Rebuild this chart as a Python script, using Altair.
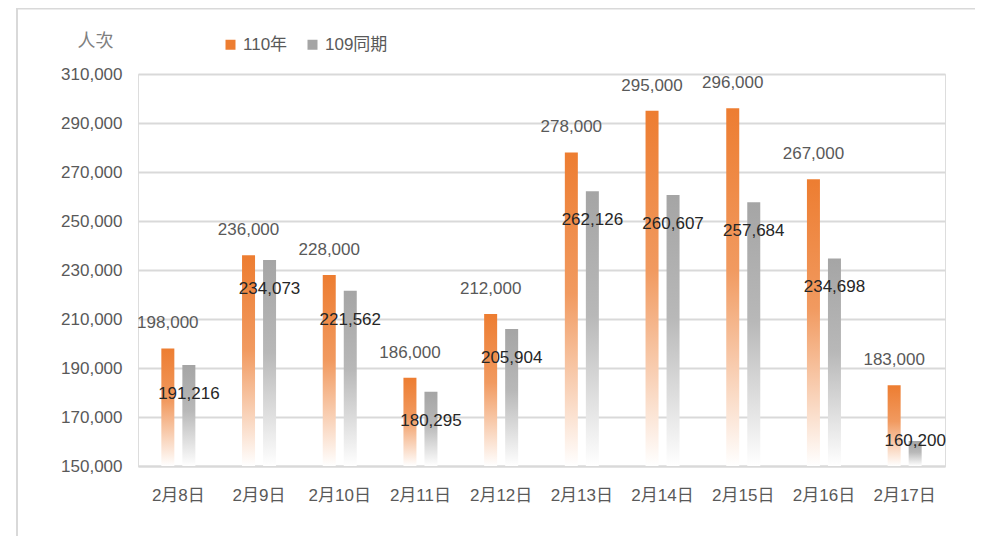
import altair as alt
import pandas as pd

dates = ["2月8日", "2月9日", "2月10日", "2月11日", "2月12日",
         "2月13日", "2月14日", "2月15日", "2月16日", "2月17日"]
series_names = ["110年", "109同期"]
values_110 = [198000, 236000, 228000, 186000, 212000, 278000, 295000, 296000, 267000, 183000]
values_109 = [191216, 234073, 221562, 180295, 205904, 262126, 260607, 257684, 234698, 160200]
y_ticks = [150000, 170000, 190000, 210000, 230000, 250000, 270000, 290000, 310000]

rows = []
for d, a, b in zip(dates, values_110, values_109):
    rows.append({"date": d, "series": series_names[0], "value": a})
    rows.append({"date": d, "series": series_names[1], "value": b})
df = pd.DataFrame(rows)

FONT = "Liberation Sans, Noto Sans CJK TC"
ORANGE = "#ED7D31"
GRAY = "#A5A5A5"

x_enc = alt.X("date:N", sort=dates, title=None,
              scale=alt.Scale(paddingInner=0, paddingOuter=0),
              axis=alt.Axis(labelAngle=0, ticks=False, domain=True, domainColor="#d9d9d9",
                            domainWidth=2, labelPadding=21, labelFontSize=17,
                            labelColor="#595959", labelFont=FONT, grid=False))
xoff = alt.XOffset("series:N", sort=series_names,
                   scale=alt.Scale(paddingInner=0, paddingOuter=0.92))
y_enc = alt.Y("value:Q", title="人次",
              scale=alt.Scale(domain=[150000, 310000], zero=False, nice=False),
              axis=alt.Axis(values=y_ticks, format=",d", ticks=False, domain=False,
                            gridColor="#d9d9d9", gridWidth=2, labelPadding=16,
                            labelFontSize=17, labelColor="#595959", labelFont=FONT,
                            titleAngle=0, titleX=-43, titleY=-33, titleAlign="center",
                            titleBaseline="middle", titleFontSize=18, titleFontWeight="normal",
                            titleColor="#7f7f7f", titleFont=FONT))

base = alt.Chart(df)

grad_orange = alt.Gradient(gradient="linear", x1=0, x2=0, y1=0, y2=1,
                           stops=[alt.GradientStop(color=ORANGE, offset=0),
                                  alt.GradientStop(color="#F19A60", offset=0.45),
                                  alt.GradientStop(color="#FFFFFF", offset=1)])
grad_gray = alt.Gradient(gradient="linear", x1=0, x2=0, y1=0, y2=1,
                         stops=[alt.GradientStop(color=GRAY, offset=0),
                                alt.GradientStop(color="#B8B8B8", offset=0.45),
                                alt.GradientStop(color="#FFFFFF", offset=1)])

is_110 = alt.datum.series == series_names[0]
is_109 = alt.datum.series == series_names[1]

bars_o = base.transform_filter(is_110).mark_bar(
    width=13, fill=grad_orange).encode(x=x_enc, xOffset=xoff, y=y_enc, y2=alt.datum(150000))
bars_g = base.transform_filter(is_109).mark_bar(
    width=13, fill=grad_gray).encode(x=x_enc, xOffset=xoff, y=y_enc, y2=alt.datum(150000))

text_o = base.transform_filter(is_110).mark_text(
    dy=-25, fontSize=17, color="#595959", font=FONT).encode(
    x=x_enc, xOffset=xoff, y=y_enc, text=alt.Text("value:Q", format=",d"))
text_g = base.transform_filter(is_109).transform_filter(alt.datum.value > 170000).mark_text(
    dy=29, fontSize=17, color="#262626", font=FONT).encode(
    x=x_enc, xOffset=xoff, y=y_enc, text=alt.Text("value:Q", format=",d"))
text_g_short = base.transform_filter(is_109).transform_filter(alt.datum.value <= 170000).mark_text(
    dy=0, fontSize=17, color="#262626", font=FONT).encode(
    x=x_enc, xOffset=xoff, y=y_enc, text=alt.Text("value:Q", format=",d"))

legend_layer = base.mark_square(opacity=0).encode(
    x=x_enc, xOffset=xoff, y=y_enc,
    color=alt.Color("series:N", sort=series_names,
                    scale=alt.Scale(domain=series_names, range=[ORANGE, GRAY]),
                    legend=alt.Legend(title=None, orient="none", direction="horizontal",
                                      legendX=84, legendY=-38, symbolType="square",
                                      symbolSize=100, symbolOpacity=1, symbolStrokeWidth=0,
                                      labelFontSize=17, labelColor="#595959", labelFont=FONT,
                                      labelOffset=4, columnPadding=16)))

frame_left = alt.Chart(pd.DataFrame({"k": [0]})).mark_rule(color="#d9d9d9", strokeWidth=2).encode(
    x=alt.value(-121), y=alt.value(-66), y2=alt.value(480))
frame_top = alt.Chart(pd.DataFrame({"k": [0]})).mark_rule(color="#d9d9d9", strokeWidth=3).encode(
    x=alt.value(-121), x2=alt.value(850), y=alt.value(-66))

chart = alt.layer(frame_left, frame_top, bars_o, bars_g, text_o, text_g, text_g_short,
                  legend_layer).properties(
    width=807, height=392,
    autosize=alt.AutoSizeParams(type="none"),
    padding={"left": 130, "top": 66, "right": 30, "bottom": 70},
).configure_view(stroke=None).configure(background="white")

chart.save("out.html", embed_options={"renderer": "svg", "actions": False})
